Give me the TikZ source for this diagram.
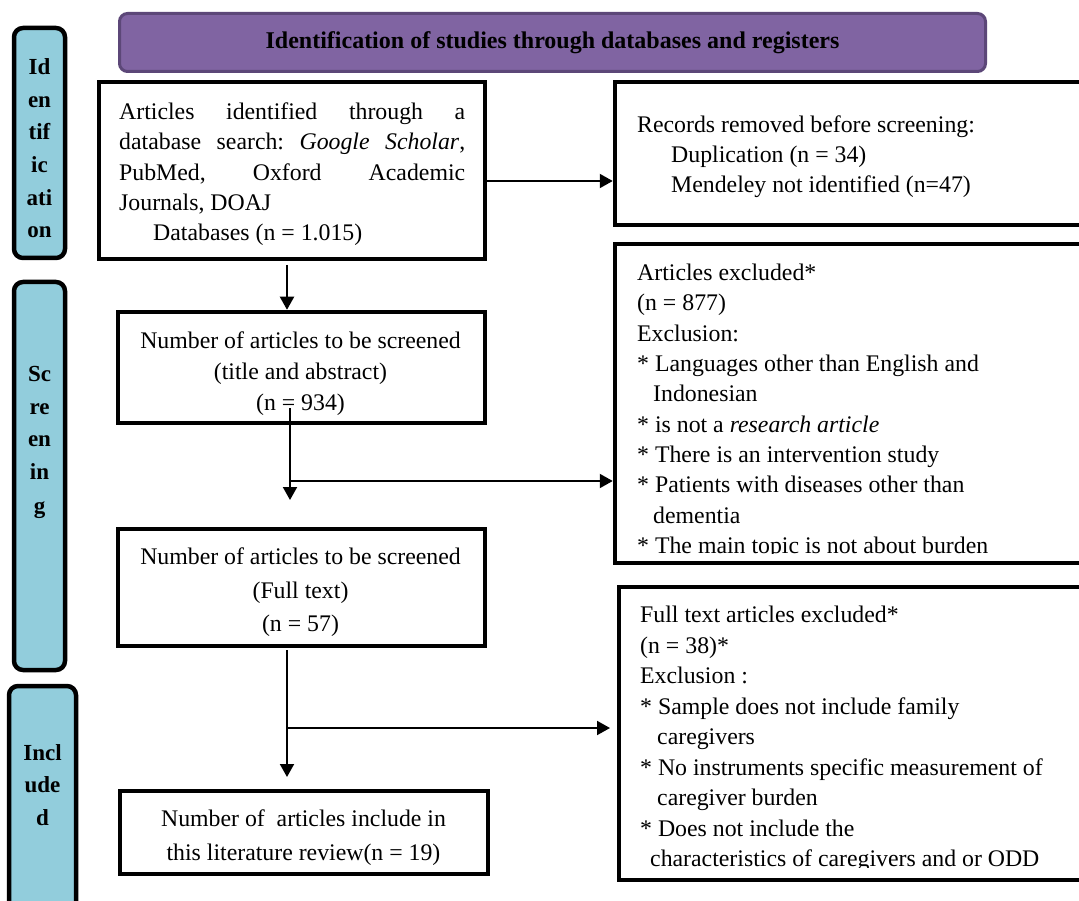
\documentclass[tikz,border=0pt]{standalone}
\usepackage{fontspec}
\setmainfont{Liberation Serif}
\usetikzlibrary{arrows.meta}
\definecolor{bannerfill}{RGB}{128,100,162}
\definecolor{bannerdraw}{RGB}{92,71,120}
\definecolor{stagefill}{RGB}{146,205,220}
\tikzset{
  box/.style={draw=black, line width=4.5pt, fill=white, inner sep=0pt},
  stage/.style={draw=black, fill=stagefill, line width=4.5pt, rounded corners=9pt, inner sep=0pt},
  txt/.style={inner sep=0pt, anchor=base west, font=\fontsize{23.8}{30.3}\selectfont},
  ctxt/.style={inner sep=0pt, anchor=base},
  stxt/.style={inner sep=0pt, anchor=base, font=\bfseries\fontsize{23}{32.7}\selectfont},
  arr/.style={line width=2pt, -{Triangle[length=13pt,width=14pt]}}
}
\newcommand{\mystack}[2]{\vtop{\hsize=#1\relax #2}}
\newcommand{\ctrline}[1]{\hbox to\hsize{\hfil #1\hfil}}
\newcommand{\lftline}[1]{\hbox to\hsize{#1\hfil}}
\begin{document}
\begin{tikzpicture}[x=1pt,y=-1pt]
\useasboundingbox (0,0) rectangle (1079,901);
\fill[white] (0,0) rectangle (1079,901);
\clip (0,0) rectangle (1079,901);

% banner
\node[draw=bannerdraw, fill=bannerfill, line width=3pt, rounded corners=8pt,
      minimum width=866pt, minimum height=58pt, inner sep=0pt,
      font=\bfseries\fontsize{24}{26}\selectfont] (title) at (552.5,42.5)
      {Identification of studies through databases and registers};

% stage labels
\node[stage, minimum width=51pt, minimum height=230pt] (id) at (39.5,143) {};
\node[stxt] (idt) at (39.5,74.5) {\mystack{60pt}{\ctrline{Id}\ctrline{en}\ctrline{tif}\ctrline{ic}\ctrline{ati}\ctrline{on}}};
\node[stage, minimum width=51pt, minimum height=388pt] (sc) at (39.5,476) {};
\node[stxt, font=\bfseries\fontsize{23}{33}\selectfont] (sct) at (39.5,381) {\mystack{60pt}{\ctrline{Sc}\ctrline{re}\ctrline{en}\ctrline{in}\ctrline{g}}};
\node[stage, minimum width=67pt, minimum height=234pt] (in) at (42.5,803) {};
\node[stxt, font=\bfseries\fontsize{23}{32.5}\selectfont] (int) at (42.5,760) {\mystack{60pt}{\ctrline{Incl}\ctrline{ude}\ctrline{d}}};

% box A
\node[box, minimum width=386pt, minimum height=177pt] (A) at (292,170.5) {};
\node[txt] (At) at (119,119.5) {\mystack{346pt}{%
\hbox to\hsize{Articles\hfill identified\hfill through\hfill a}%
\hbox to\hsize{database\hfill search:\hfill \textit{Google}\hfill \textit{Scholar},}%
\hbox to\hsize{PubMed,\hfill Oxford\hfill Academic}%
\lftline{Journals, DOAJ}%
\lftline{\hspace*{34pt}Databases (n = 1.015)}}};

% box B
\node[box, minimum width=485pt, minimum height=143pt] (B) at (857.5,153.5) {};
\node[txt, font=\fontsize{23.8}{30}\selectfont] (Bt) at (637,132.5) {\mystack{420pt}{%
\lftline{Records removed before screening:}%
\lftline{\hspace*{34pt}Duplication (n = 34)}%
\lftline{\hspace*{34pt}Mendeley not identified (n=47)}}};

% box C
\node[box, minimum width=367pt, minimum height=111pt] (C) at (301.5,367.5) {};
\node[ctxt, font=\fontsize{23.8}{31}\selectfont] (Ct) at (300.5,348.5) {\mystack{360pt}{%
\ctrline{Number of articles to be screened}\ctrline{(title and abstract)}\ctrline{(n = 934)}}};

% box D
\node[box, minimum width=367pt, minimum height=117pt] (D) at (301.5,587.5) {};
\node[ctxt, font=\fontsize{23.8}{33.5}\selectfont] (Dt) at (300.5,564.5) {\mystack{360pt}{%
\ctrline{Number of articles to be screened}\ctrline{(Full text)}\ctrline{(n = 57)}}};

% box E
\node[box, line width=4pt, minimum width=368pt, minimum height=83pt] (E) at (304,832.5) {};
\node[ctxt, font=\fontsize{23.8}{34}\selectfont] (Et) at (303.5,826.5) {\mystack{360pt}{%
\ctrline{Number of\ \ articles include in}\ctrline{this literature review(n = 19)}}};

% box F
\node[box, minimum width=485pt, minimum height=319pt] (F) at (857.5,403.5) {};
\begin{scope}
\clip (615,244) rectangle (1079,553);
\node[txt, font=\fontsize{23.8}{30.35}\selectfont] (Ft) at (637,280.5) {\mystack{440pt}{%
\lftline{Articles excluded*}%
\lftline{(n = 877)}%
\lftline{Exclusion:}%
\lftline{* Languages other than English and}%
\lftline{\hspace*{16pt}Indonesian}%
\lftline{* is not a \textit{research article}}%
\lftline{* There is an intervention study}%
\lftline{* Patients with diseases other than}%
\lftline{\hspace*{16pt}dementia}%
\lftline{* The main topic is not about burden}}};
\end{scope}

% box G
\node[box, minimum width=481pt, minimum height=293pt] (G) at (859.5,733.5) {};
\begin{scope}
\clip (619,587) rectangle (1079,867);
\node[txt, font=\fontsize{23.8}{30.5}\selectfont] (Gt) at (640,622.5) {\mystack{440pt}{%
\lftline{Full text articles excluded*}%
\lftline{(n = 38)*}%
\lftline{Exclusion :}%
\lftline{* Sample does not include family}%
\lftline{\hspace*{17pt}caregivers}%
\lftline{* No instruments specific measurement of}%
\lftline{\hspace*{17pt}caregiver burden}%
\lftline{* Does not include the}%
\lftline{\hspace*{10pt}characteristics of caregivers and or ODD}}};
\end{scope}

% connectors
\coordinate (yab) at (0,181);
\draw[arr] (A.east |- yab) -- (B.west |- yab);
\coordinate (ac) at (287,265);
\draw[arr] (ac) -- (ac |- C.north);
\coordinate (cd1) at (290,408);
\coordinate (cd2) at (290,500);
\draw[arr] (cd1) -- (cd2);
\coordinate (cf) at (291,481);
\draw[arr] (cf) -- (cf -| F.west);
\coordinate (de1) at (287,650);
\coordinate (de2) at (287,777);
\draw[arr] (de1) -- (de2);
\coordinate (dg1) at (287,728);
\coordinate (dg2) at (610,728);
\draw[arr] (dg1) -- (dg2);
\end{tikzpicture}
\end{document}
